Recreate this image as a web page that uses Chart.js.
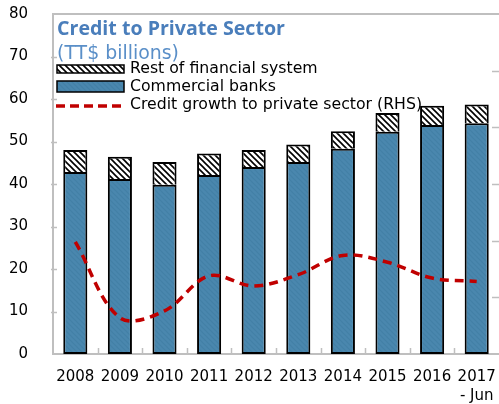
<!DOCTYPE html>
<html>
<head>
<meta charset="utf-8">
<script src="https://cdn.jsdelivr.net/npm/chart.js@4.4.1/dist/chart.umd.min.js"></script>
<style>
  html,body{margin:0;padding:0;background:#fff;}
  #wrap{width:499px;height:404px;position:relative;}
</style>
</head>
<body>
<div id="wrap"><canvas id="c" width="499" height="404"></canvas></div>
<script>
// ---- DATA ----
const categories = ['2008','2009','2010','2011','2012','2013','2014','2015','2016',['2017','- Jun']];
const commercialBanks = [42.8, 41.2, 39.8, 42.1, 44.0, 45.2, 48.3, 52.3, 53.9, 54.3];
const restOfFinancialSystem = [5.2, 5.2, 5.4, 5.1, 4.0, 4.1, 4.1, 4.4, 4.5, 4.4];
const creditGrowthRHS = [9.9, 3.2, 3.8, 6.9, 6.0, 7.0, 8.7, 8.1, 6.7, 6.4];
const leftTicks = [0, 10, 20, 30, 40, 50, 60, 70, 80];
const rightTicks = [0, 5, 10, 15, 20, 25, 30];
const titleText = 'Credit to Private Sector';
const subtitleText = '(TT$ billions)';
const seriesNames = ['Rest of financial system', 'Commercial banks', 'Credit growth to private sector (RHS)'];

// ---- STYLE HELPERS ----
function hatch(bg, fg, lw, s) {
  const c = document.createElement('canvas');
  c.width = s; c.height = s;
  const g = c.getContext('2d');
  g.fillStyle = bg; g.fillRect(0, 0, s, s);
  g.strokeStyle = fg; g.lineWidth = lw;
  g.beginPath();
  for (let k = -1; k <= 1; k++) {
    g.moveTo(k * s - 1, -1);
    g.lineTo(k * s + s + 1, s + 1);
  }
  g.stroke();
  return g.createPattern(c, 'repeat');
}
const restPattern = hatch('#ffffff', '#000000', 1.6, 6);
const bankPattern = hatch('#4A87AE', '#4380A6', 1.2, 5);
const gray = '#BFBFBF';

const decorPlugin = {
  id: 'decor',
  afterDraw(chart) {
    const ctx = chart.ctx;
    const ca = chart.chartArea;
    const y = chart.scales.y, y1 = chart.scales.y1, x = chart.scales.x;
    ctx.save();
    ctx.strokeStyle = gray; ctx.lineWidth = 2;
    ctx.beginPath(); ctx.moveTo(ca.left, ca.top); ctx.lineTo(ca.right, ca.top); ctx.stroke();
    ctx.lineWidth = 1.5;
    leftTicks.forEach(v => {
      if (v === 0 || v === 80) return;
      const py = Math.round(y.getPixelForValue(v)) + 0.5;
      ctx.beginPath(); ctx.moveTo(ca.left - 2, py); ctx.lineTo(ca.left + 4, py); ctx.stroke();
    });
    rightTicks.forEach(v => {
      if (v === 0 || v === 30) return;
      const py = Math.round(y1.getPixelForValue(v)) + 0.5;
      ctx.beginPath(); ctx.moveTo(ca.right - 7, py); ctx.lineTo(ca.right, py); ctx.stroke();
    });
    for (let i = 0; i < categories.length - 1; i++) {
      const px = Math.round((x.getPixelForTick(i) + x.getPixelForTick(i + 1)) / 2) + 0.5;
      ctx.beginPath(); ctx.moveTo(px, ca.bottom); ctx.lineTo(px, ca.bottom - 6); ctx.stroke();
    }
    ctx.textBaseline = 'alphabetic';
    ctx.textAlign = 'left';
    ctx.fillStyle = '#4A7EBB';
    ctx.font = 'bold 18px "Open Sans"';
    let w = ctx.measureText(titleText).width;
    let fs = 18 * 228 / w;
    ctx.font = 'bold ' + fs.toFixed(2) + 'px "Open Sans"';
    ctx.fillText(titleText, 57, 35);
    ctx.fillStyle = '#5A8FC8';
    ctx.font = '17px "DejaVu Sans"';
    w = ctx.measureText(subtitleText).width;
    fs = 17 * 122 / w;
    ctx.font = fs.toFixed(2) + 'px "DejaVu Sans"';
    ctx.fillText(subtitleText, 57, 59);
    ctx.font = '14px "DejaVu Sans"';
    w = ctx.measureText(seriesNames[2]).width;
    fs = 14 * 292 / w;
    ctx.font = fs.toFixed(2) + 'px "DejaVu Sans"';
    ctx.textBaseline = 'middle';
    ctx.fillStyle = restPattern; ctx.fillRect(57, 65, 67, 8);
    ctx.strokeStyle = '#000'; ctx.lineWidth = 1.5; ctx.strokeRect(57, 65, 67, 8);
    ctx.fillStyle = bankPattern; ctx.fillRect(57, 81, 67, 11);
    ctx.strokeRect(57, 81, 67, 11);
    ctx.strokeStyle = '#C00000'; ctx.lineWidth = 3.5; ctx.setLineDash([9, 5]);
    ctx.beginPath(); ctx.moveTo(56, 106); ctx.lineTo(124, 106); ctx.stroke();
    ctx.setLineDash([]);
    ctx.fillStyle = '#000';
    ctx.fillText(seriesNames[0], 130, 69);
    ctx.fillText(seriesNames[1], 130, 87);
    ctx.fillText(seriesNames[2], 130, 105);
    ctx.restore();
  }
};

new Chart(document.getElementById('c'), {
  type: 'bar',
  data: {
    labels: categories,
    datasets: [
      {
        label: seriesNames[1], data: commercialBanks, backgroundColor: bankPattern,
        borderColor: '#000', borderWidth: 2, borderSkipped: false, yAxisID: 'y', order: 1,
        barPercentage: 0.54, categoryPercentage: 1.0, stack: 's'
      },
      {
        label: seriesNames[0], data: restOfFinancialSystem, backgroundColor: restPattern,
        borderColor: '#000', borderWidth: 2, borderSkipped: 'bottom', yAxisID: 'y', order: 1,
        barPercentage: 0.54, categoryPercentage: 1.0, stack: 's'
      },
      {
        type: 'line', label: seriesNames[2], data: creditGrowthRHS, yAxisID: 'y1', order: 0,
        borderColor: '#C00000', borderWidth: 3.5, borderDash: [9, 6], pointRadius: 0,
        tension: 0.35, fill: false, stack: 'line'
      }
    ]
  },
  options: {
    responsive: false, animation: false,
    layout: { autoPadding: false, padding: { top: 14, left: 0, right: 0, bottom: 0 } },
    plugins: { legend: { display: false }, tooltip: { enabled: false }, title: { display: false } },
    scales: {
      x: {
        stacked: true,
        grid: { display: false, drawTicks: false },
        border: { display: true, color: gray, width: 2 },
        ticks: { color: '#000', font: { family: 'DejaVu Sans', size: 15, lineHeight: 1.3 }, padding: 13, maxRotation: 0, autoSkip: false },
        afterFit(s) { s.height = 50; s.paddingLeft = 0; s.paddingRight = 0; }
      },
      y: {
        stacked: true, min: 0, max: 80,
        afterBuildTicks(s) { s.ticks = leftTicks.map(v => ({ value: v })); },
        grid: { display: false, drawTicks: false },
        border: { display: true, color: gray, width: 2 },
        ticks: { color: '#000', font: { family: 'DejaVu Sans', size: 15 }, padding: 25 },
        afterFit(s) { s.width = 53; s.paddingTop = 0; s.paddingBottom = 0; }
      },
      y1: {
        position: 'right', display: false, min: 0, max: 30, stacked: false,
        grid: { display: false }
      }
    }
  },
  plugins: [decorPlugin]
});
</script>
</body>
</html>
